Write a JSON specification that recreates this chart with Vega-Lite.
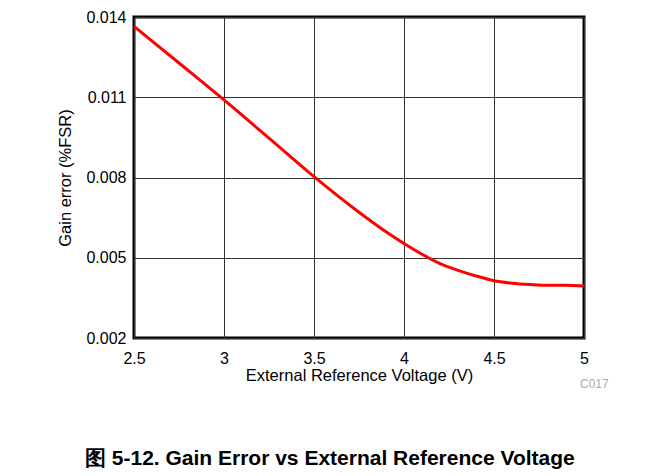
{
  "$schema": "https://vega.github.io/schema/vega-lite/v6.json",
  "width": 450,
  "height": 321,
  "autosize": {"type": "none"},
  "padding": {"left": 134, "top": 17, "right": 80, "bottom": 138},
  "background": "white",
  "config": {
    "font": "Liberation Sans",
    "view": {"stroke": "black", "strokeWidth": 3},
    "axis": {
      "labelFont": "Liberation Sans",
      "titleFont": "Liberation Sans",
      "labelFontSize": 16,
      "titleFontSize": 16.5,
      "titleFontWeight": "normal",
      "labelColor": "black",
      "titleColor": "black",
      "ticks": false,
      "domain": false,
      "grid": true,
      "gridColor": "#333333",
      "gridOpacity": 1,
      "gridWidth": 1
    }
  },
  "title": {
    "text": "图 5-12. Gain Error vs External Reference Voltage",
    "orient": "bottom",
    "anchor": "start",
    "dx": 27,
    "offset": 58,
    "font": "Liberation Sans",
    "fontSize": 21,
    "fontWeight": "bold",
    "color": "black"
  },
  "data": {
    "values": [
      {"v": 2.5, "e": 0.01365},
      {"v": 2.75, "e": 0.01228},
      {"v": 3.0, "e": 0.0109},
      {"v": 3.25, "e": 0.00947},
      {"v": 3.5, "e": 0.00803},
      {"v": 3.75, "e": 0.0067},
      {"v": 3.9, "e": 0.00597},
      {"v": 4.0, "e": 0.00553},
      {"v": 4.1, "e": 0.00513},
      {"v": 4.2, "e": 0.00478},
      {"v": 4.3, "e": 0.00453},
      {"v": 4.4, "e": 0.00432},
      {"v": 4.5, "e": 0.00414},
      {"v": 4.6, "e": 0.00405},
      {"v": 4.7, "e": 0.004},
      {"v": 4.8, "e": 0.00397},
      {"v": 4.9, "e": 0.00397},
      {"v": 5.0, "e": 0.00394}
    ]
  },
  "layer": [
    {
      "mark": {"type": "line", "color": "#ff0000", "strokeWidth": 3, "interpolate": "monotone"},
      "encoding": {
        "x": {
          "field": "v",
          "type": "quantitative",
          "scale": {"domain": [2.5, 5], "nice": false, "zero": false},
          "axis": {"values": [2.5, 3, 3.5, 4, 4.5, 5], "format": "~g", "labelPadding": 12, "title": "External Reference Voltage (V)", "titlePadding": 1, "labelFlush": false}
        },
        "y": {
          "field": "e",
          "type": "quantitative",
          "scale": {"domain": [0.002, 0.014], "nice": false, "zero": false},
          "axis": {"values": [0.002, 0.005, 0.008, 0.011, 0.014], "format": ".3f", "labelPadding": 8, "title": "Gain error (%FSR)", "titlePadding": 12, "labelFlush": false}
        }
      }
    },
    {
      "data": {"values": [{"label": "C017", "v": 5, "e": 0.00028}]},
      "mark": {"type": "text", "align": "left", "baseline": "middle", "dx": -4, "fontSize": 12, "color": "#aaaaaa", "font": "Liberation Sans", "clip": false},
      "encoding": {
        "x": {"field": "v", "type": "quantitative"},
        "y": {"field": "e", "type": "quantitative"},
        "text": {"field": "label"}
      }
    }
  ]
}
